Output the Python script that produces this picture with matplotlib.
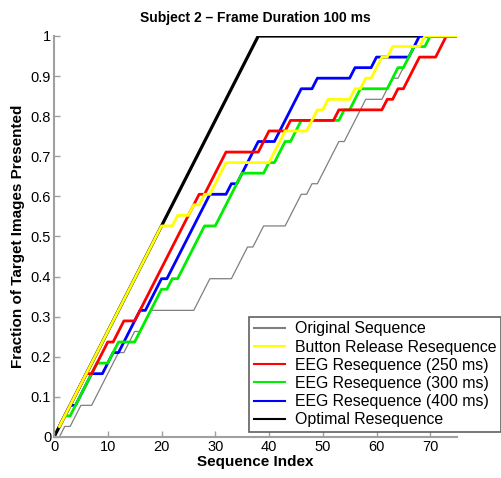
import matplotlib
matplotlib.use("Agg")
import matplotlib.pyplot as plt

plt.rcParams['font.family'] = ['Liberation Sans', 'DejaVu Sans']

N_TARGETS = 38

# Breakpoints (sequence index, cumulative number of targets presented)
orig_x = [1, 2, 3, 5, 7, 12, 13, 15, 16, 18, 26, 29, 33, 36, 37, 39, 43, 46, 47, 48, 49, 53, 54, 58, 61, 63, 64, 68, 75]
orig_k = [0, 1, 1, 3, 3, 8, 8, 10, 10, 12, 12, 15, 15, 18, 18, 20, 20, 23, 23, 24, 24, 28, 28, 32, 32, 34, 34, 38, 38]

button_x = [1, 20, 22, 23, 25, 26, 27, 28, 29, 32, 40, 43, 47, 49, 50, 51, 55, 56, 57, 58, 59, 61, 62, 63, 68, 69, 75]
button_k = [1, 20, 20, 21, 21, 22, 22, 23, 23, 26, 26, 29, 29, 31, 31, 32, 32, 33, 33, 34, 34, 36, 36, 37, 37, 38, 38]

eeg250_x = [1, 6, 7, 10, 11, 13, 15, 27, 28, 32, 38, 40, 43, 44, 52, 53, 61, 62, 63, 64, 65, 68, 71, 73, 75]
eeg250_k = [1, 6, 6, 9, 9, 11, 11, 23, 23, 27, 27, 29, 29, 30, 30, 31, 31, 32, 32, 33, 33, 36, 36, 38, 38]

eeg300_x = [1, 2, 3, 8, 10, 12, 15, 18, 20, 21, 22, 23, 28, 30, 35, 39, 40, 41, 43, 44, 46, 53, 54, 55, 57, 62, 64, 65, 67, 69, 70, 75]
eeg300_k = [1, 2, 2, 7, 7, 9, 9, 12, 14, 14, 15, 15, 20, 20, 25, 25, 26, 26, 28, 28, 30, 30, 31, 31, 33, 33, 35, 35, 37, 37, 38, 38]

eeg400_x = [1, 3, 4, 7, 9, 11, 12, 16, 17, 20, 21, 29, 32, 33, 34, 38, 41, 46, 48, 49, 55, 56, 59, 60, 66, 68, 75]
eeg400_k = [1, 3, 3, 6, 6, 8, 8, 12, 12, 15, 15, 23, 23, 24, 24, 28, 28, 33, 33, 34, 34, 35, 35, 36, 36, 38, 38]

optimal_x = [0, 38, 75]
optimal_k = [0, 38, 38]

labels = ["Original Sequence", "Button Release Resequence", "EEG Resequence (250 ms)",
          "EEG Resequence (300 ms)", "EEG Resequence (400 ms)", "Optimal Resequence"]
x_ticks = [0, 10, 20, 30, 40, 50, 60, 70]
y_ticks = [0, 0.1, 0.2, 0.3, 0.4, 0.5, 0.6, 0.7, 0.8, 0.9, 1]
y_tick_labels = ["0", "0.1", "0.2", "0.3", "0.4", "0.5", "0.6", "0.7", "0.8", "0.9", "1"]

fig = plt.figure(figsize=(5.02, 4.78), dpi=100)
ax = fig.add_axes([0.1076, 0.0858, 0.803, 0.8389])

def frac(k):
    return [v / N_TARGETS for v in k]

h_opt, = ax.plot(optimal_x, frac(optimal_k), color='black', lw=2.3, zorder=1)
h_orig, = ax.plot(orig_x, frac(orig_k), color='#7f7f7f', lw=0.9, zorder=2)
h_e400, = ax.plot(eeg400_x, frac(eeg400_k), color='#0000ff', lw=2.0, zorder=3)
h_e300, = ax.plot(eeg300_x, frac(eeg300_k), color='#00ee00', lw=2.0, zorder=4)
h_e250, = ax.plot(eeg250_x, frac(eeg250_k), color='#ff0000', lw=2.0, zorder=5)
h_btn, = ax.plot(button_x, frac(button_k), color='#ffff00', lw=2.0, zorder=6)

ax.set_xlim(0, 75)
ax.set_ylim(0, 1)
ax.set_xticks(x_ticks)
ax.set_yticks(y_ticks)
ax.set_yticklabels(y_tick_labels)
for s in ['top', 'right']:
    ax.spines[s].set_visible(False)
for s in ['left', 'bottom']:
    ax.spines[s].set_color('#a0a0a0')
    ax.spines[s].set_linewidth(1.5)
ax.tick_params(direction='in', length=4, width=1, color='#a0a0a0', labelsize=10.5, pad=2)

ax.set_title("Subject 2 \u2013 Frame Duration 100 ms", fontsize=10, fontweight='bold', pad=10)
ax.set_xlabel("Sequence Index", fontsize=11, fontweight='bold', labelpad=1)
ax.set_ylabel("Fraction of Target Images Presented", fontsize=11, fontweight='bold', labelpad=4)

leg = fig.legend([h_orig, h_btn, h_e250, h_e300, h_e400, h_opt], labels,
                 loc='lower left', bbox_to_anchor=(249 / 502, 46 / 478),
                 fontsize=11.4, frameon=True, fancybox=False, framealpha=1,
                 edgecolor='#606060', handlelength=2.0, handletextpad=0.6,
                 labelspacing=0.2, borderpad=0.3, borderaxespad=0)
leg.get_frame().set_linewidth(1.2)
for line in leg.get_lines():
    line.set_linewidth(1.5)

fig.savefig("out.png", dpi=100)
